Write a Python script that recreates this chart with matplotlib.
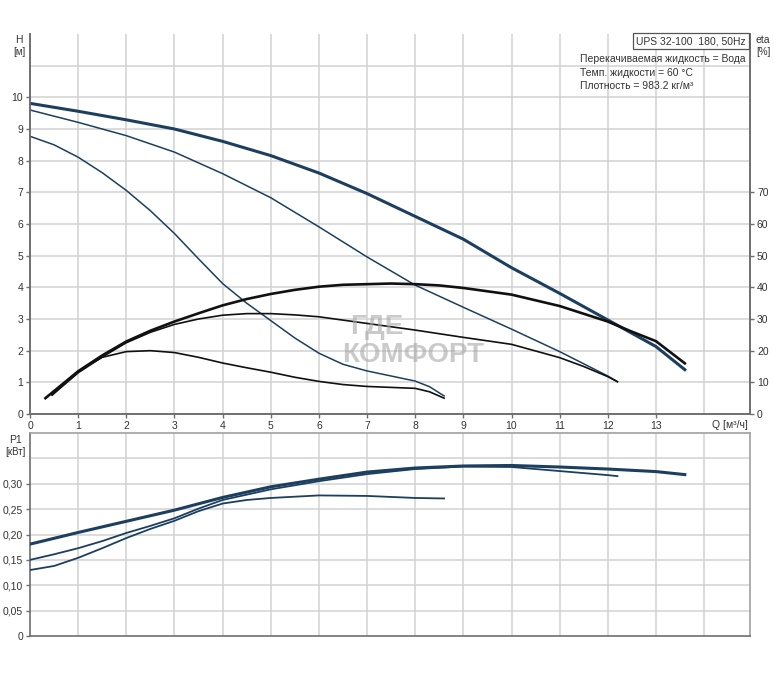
import matplotlib
matplotlib.use("Agg")
import matplotlib.pyplot as plt

plt.rcParams['font.family'] = ['Liberation Sans', 'DejaVu Sans']

# ---------------- data ----------------
# Head curves H [m] vs Q [m3/h]
q_h1 = [0, 1, 2, 3, 4, 5, 6, 7, 8, 9, 10, 11, 12, 13, 13.6]
h1 = [9.81, 9.56, 9.29, 9.0, 8.61, 8.16, 7.61, 6.96, 6.24, 5.52, 4.62, 3.81, 2.97, 2.13, 1.4]

q_h2 = [0, 1, 2, 3, 4, 5, 6, 7, 8, 9, 10, 11, 12, 12.2]
h2 = [9.6, 9.21, 8.79, 8.27, 7.59, 6.83, 5.91, 4.96, 4.07, 3.37, 2.68, 1.97, 1.2, 1.02]

q_h3 = [0, 0.5, 1, 1.5, 2, 2.5, 3, 3.5, 4, 4.5, 5, 5.5, 6, 6.5, 7, 7.5, 8, 8.3, 8.6]
h3 = [8.77, 8.5, 8.11, 7.62, 7.06, 6.42, 5.7, 4.9, 4.12, 3.5, 2.95, 2.4, 1.92, 1.57, 1.36, 1.2, 1.04, 0.86, 0.57]

# Efficiency curves eta [%]
q_e1 = [0.32, 1, 1.5, 2, 2.5, 3, 3.5, 4, 4.5, 5, 5.5, 6, 6.5, 7, 7.5, 8, 8.5, 9, 10, 11, 12, 12.5, 13, 13.6]
e1 = [5.0, 13.5, 18.5, 22.9, 26.3, 29.2, 31.8, 34.3, 36.3, 37.9, 39.2, 40.2, 40.8, 41.0, 41.2, 41.0, 40.6, 39.8, 37.7, 34.1, 29.2, 26.0, 23.0, 16.0]

q_e2 = [0.46, 1, 1.5, 2, 2.5, 3, 3.5, 4, 4.5, 5, 5.5, 6, 7, 8, 9, 10, 11, 11.5, 12, 12.2]
e2 = [6.0, 13.0, 18.0, 22.5, 25.8, 28.3, 30.0, 31.2, 31.7, 31.7, 31.3, 30.7, 28.6, 26.5, 24.2, 22.0, 17.8, 15.0, 11.8, 10.2]

q_e3 = [0.46, 1, 1.5, 2, 2.5, 3, 3.5, 4, 4.5, 5, 5.5, 6, 6.5, 7, 7.5, 8, 8.3, 8.6]
e3 = [6.0, 13.5, 17.9, 19.7, 20.0, 19.4, 17.9, 16.1, 14.6, 13.2, 11.6, 10.3, 9.3, 8.7, 8.4, 8.1, 7.0, 5.0]

# Power P1 [kW]
q_p1 = [0, 1, 2, 3, 4, 5, 6, 7, 8, 9, 10, 11, 12, 13, 13.6]
p1 = [0.181, 0.204, 0.226, 0.248, 0.273, 0.294, 0.309, 0.323, 0.331, 0.335, 0.336, 0.333, 0.329, 0.324, 0.318]

q_p2 = [0, 0.5, 1, 1.5, 2, 2.5, 3, 3.5, 4, 5, 6, 7, 8, 9, 10, 11, 12, 12.2]
p2 = [0.150, 0.161, 0.173, 0.187, 0.203, 0.217, 0.232, 0.251, 0.268, 0.289, 0.305, 0.319, 0.329, 0.334, 0.333, 0.325, 0.317, 0.315]

q_p3 = [0, 0.5, 1, 1.5, 2, 2.5, 3, 3.5, 4, 4.5, 5, 6, 7, 8, 8.6]
p3 = [0.130, 0.138, 0.154, 0.173, 0.193, 0.211, 0.227, 0.246, 0.261, 0.268, 0.272, 0.277, 0.276, 0.272, 0.271]

x_ticks = list(range(0, 14))
h_ticks = list(range(0, 11))
eta_ticks = list(range(0, 71, 10))
p_ticks = [0, 0.05, 0.10, 0.15, 0.20, 0.25, 0.30]
p_labels = ['0', '0,05', '0,10', '0,15', '0,20', '0,25', '0,30']

title_box = 'UPS 32-100  180, 50Hz'
info_lines = ['Перекачиваемая жидкость = Вода',
              'Темп. жидкости = 60 °C',
              'Плотность = 983.2 кг/м³']

# ---------------- style ----------------
W, H = 774, 678
BLUE = '#1c3f60'
BLACK = '#111111'
GRID = '#d2d2d2'
SPINE = '#6e6e6e'
TXT = '#333333'
FS = 7.5

fig = plt.figure(figsize=(W / 100, H / 100), dpi=100)

def fx(px):
    return px / W

def fy(py):
    return 1 - py / H

ax1 = fig.add_axes([fx(30), fy(414), fx(720), (414 - 34) / H])
ax2 = fig.add_axes([fx(30), fy(636), fx(720), (636 - 433) / H])

XMAX = 720 / 48.15

for ax in (ax1, ax2):
    ax.set_xlim(0, XMAX)
    ax.set_facecolor('white')
    for x in range(1, 15):
        ax.axvline(x, color=GRID, lw=1.1, zorder=0)

# top axes
ax1.set_ylim(0, 12)
for y in range(1, 12):
    ax1.axhline(y, color=GRID, lw=1.1, zorder=0)
ax1.set_yticks(h_ticks)
ax1.set_yticklabels([str(v) for v in h_ticks], fontsize=FS, color=TXT)
ax1.set_xticks(x_ticks)
ax1.set_xticklabels([str(v) for v in x_ticks], fontsize=FS, color=TXT)
ax1.tick_params(axis='both', length=3, width=1, color=SPINE, pad=2)
ax1.spines['top'].set_visible(False)
for s in ('left', 'bottom', 'right'):
    ax1.spines[s].set_color(SPINE)
    ax1.spines[s].set_linewidth(1.2)

ax1.plot(q_h1, h1, color=BLUE, lw=2.2, zorder=3)
ax1.plot(q_h2, h2, color=BLUE, lw=1.1, zorder=3)
ax1.plot(q_h3, h3, color=BLUE, lw=1.1, zorder=3)

axr = ax1.twinx()
axr.set_ylim(0, 120)
axr.set_xlim(0, XMAX)
axr.set_yticks(eta_ticks)
axr.set_yticklabels([str(v) for v in eta_ticks], fontsize=FS, color=TXT)
axr.tick_params(axis='y', length=3, width=1, color=SPINE, pad=2)
axr.spines['top'].set_visible(False)
for s in ('left', 'bottom', 'right'):
    axr.spines[s].set_color(SPINE)
    axr.spines[s].set_linewidth(1.2)
axr.plot(q_e1, e1, color=BLACK, lw=1.9, zorder=3)
axr.plot(q_e2, e2, color=BLACK, lw=1.2, zorder=3)
axr.plot(q_e3, e3, color=BLACK, lw=1.2, zorder=3)

# bottom axes
ax2.set_ylim(0, 0.40)
for y in [0.05, 0.10, 0.15, 0.20, 0.25, 0.30, 0.35]:
    ax2.axhline(y, color=GRID, lw=1.1, zorder=0)
ax2.set_yticks(p_ticks)
ax2.set_yticklabels(p_labels, fontsize=FS, color=TXT)
ax2.set_xticks([])
ax2.tick_params(axis='y', length=3, width=1, color=SPINE, pad=2)
for s in ('top', 'right'):
    ax2.spines[s].set_color('#a0a0a0')
    ax2.spines[s].set_linewidth(1.2)
for s in ('left', 'bottom'):
    ax2.spines[s].set_color(SPINE)
    ax2.spines[s].set_linewidth(1.2)
ax2.plot(q_p1, p1, color=BLUE, lw=2.2, zorder=3)
ax2.plot(q_p2, p2, color=BLUE, lw=1.3, zorder=3)
ax2.plot(q_p3, p3, color=BLUE, lw=1.3, zorder=3)

# axis labels
fig.text(fx(19), fy(40), 'H', fontsize=FS, color=TXT, ha='center', va='center')
fig.text(fx(19), fy(52), '[м]', fontsize=FS - 0.5, color=TXT, ha='center', va='center')
fig.text(fx(763), fy(40), 'eta', fontsize=FS, color=TXT, ha='center', va='center')
fig.text(fx(763), fy(52), '[%]', fontsize=FS - 0.5, color=TXT, ha='center', va='center')
fig.text(fx(15), fy(440), 'P1', fontsize=FS, color=TXT, ha='center', va='center')
fig.text(fx(15), fy(452), '[кВт]', fontsize=FS - 0.5, color=TXT, ha='center', va='center')
fig.text(fx(730), fy(425), 'Q [м³/ч]', fontsize=FS, color=TXT, ha='center', va='center')

# info box
fig.text(fx(691), fy(41), title_box, fontsize=FS, color=TXT, ha='center', va='center',
         bbox=dict(boxstyle='square,pad=0.3', fc='white', ec='#555555', lw=0.9))
for i, line in enumerate(info_lines):
    fig.text(fx(580), fy(59 + 13.5 * i), line, fontsize=FS, color=TXT, ha='left', va='center')

# watermark
fig.text(fx(350), fy(327), 'ГДЕ', fontsize=20, fontweight='bold', color='#a8a8a8', alpha=0.6,
         ha='left', va='center')
fig.text(fx(342), fy(355), 'КОМФОРТ', fontsize=20, fontweight='bold', color='#a8a8a8', alpha=0.6,
         ha='left', va='center')

fig.savefig('out.png', dpi=100)
